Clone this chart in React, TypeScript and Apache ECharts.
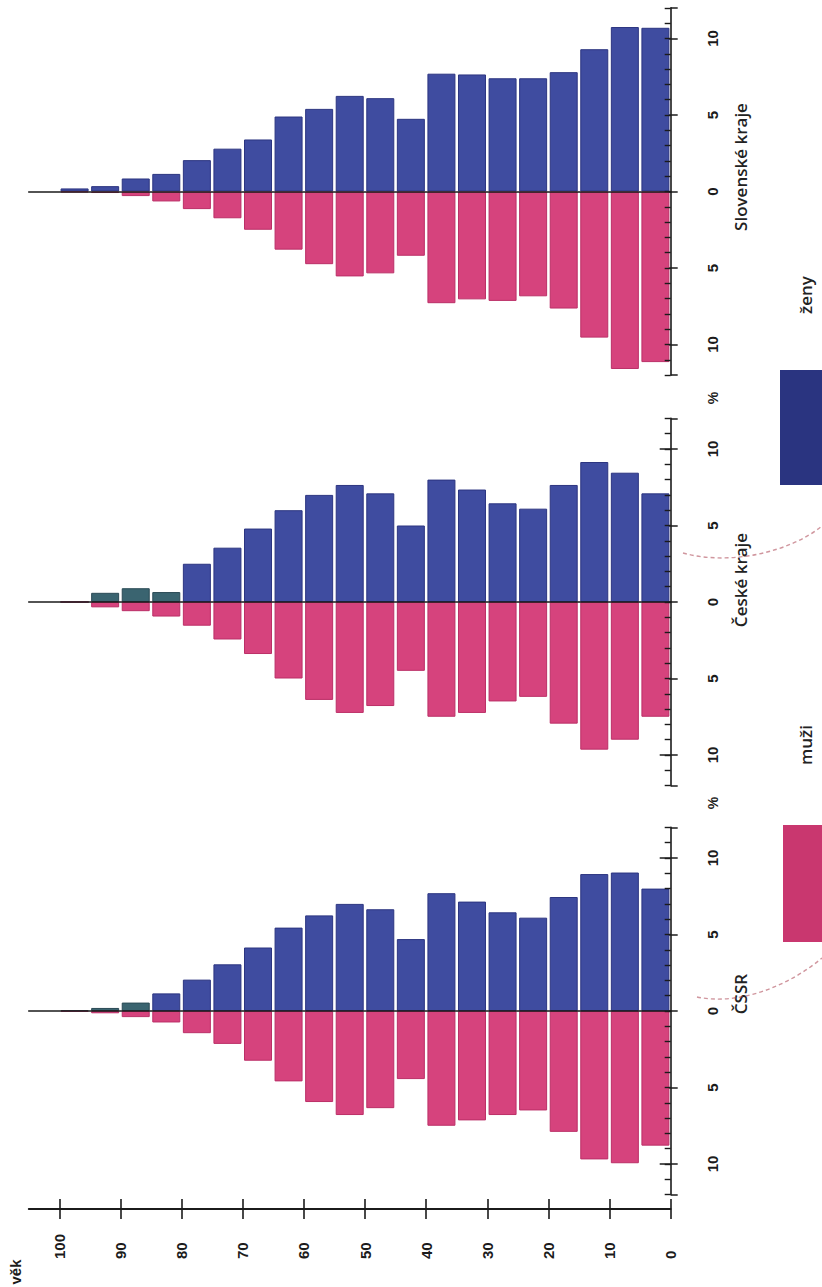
import React, { useEffect, useRef } from "react";
import * as echarts from "echarts";

// ---------- data ----------
const ageGroupStarts = [0, 5, 10, 15, 20, 25, 30, 35, 40, 45, 50, 55, 60, 65, 70, 75, 80, 85, 90, 95];
const ageTickValues = [0, 10, 20, 30, 40, 50, 60, 70, 80, 90, 100];
const percentLabelValues = [-10, -5, 0, 5, 10];
const percentMinorTickValues = [-12, -11, -10, -9, -8, -7, -6, -5, -4, -3, -2, -1, 0, 1, 2, 3, 4, 5, 6, 7, 8, 9, 10, 11, 12];
const percentOuterTickValues = [-12, -10, -5, 0, 5, 10, 12];

// Slovenské kraje
const skWomen = [10.7, 10.75, 9.3, 7.8, 7.4, 7.4, 7.65, 7.7, 4.75, 6.1, 6.25, 5.4, 4.9, 3.4, 2.8, 2.05, 1.15, 0.85, 0.35, 0.2];
const skMen = [11.15, 11.6, 9.55, 7.65, 6.85, 7.15, 7.05, 7.3, 4.2, 5.35, 5.55, 4.75, 3.8, 2.5, 1.75, 1.15, 0.65, 0.3, 0.1, 0.05];
// České kraje
const czWomen = [7.1, 8.45, 9.15, 7.65, 6.1, 6.45, 7.35, 8.0, 5.0, 7.1, 7.65, 7.0, 6.0, 4.8, 3.55, 2.5, 0.65, 0.9, 0.6, 0];
const czMen = [7.5, 9.0, 9.65, 7.95, 6.2, 6.5, 7.25, 7.5, 4.5, 6.8, 7.25, 6.4, 5.0, 3.4, 2.45, 1.55, 0.95, 0.6, 0.35, 0];
// ČSSR
const csWomen = [8.0, 9.05, 8.95, 7.45, 6.1, 6.45, 7.15, 7.7, 4.7, 6.65, 7.0, 6.25, 5.45, 4.15, 3.05, 2.05, 1.15, 0.55, 0.2, 0.05];
const csMen = [8.8, 9.95, 9.7, 7.9, 6.5, 6.8, 7.15, 7.5, 4.45, 6.35, 6.8, 5.95, 4.6, 3.25, 2.15, 1.45, 0.75, 0.4, 0.15, 0.05];

const pyramidTitles = ["Slovenské kraje", "České kraje", "ČSSR"];
const legendMen = "muži";
const legendWomen = "ženy";
const ageAxisName = "věk";
const percentSign = "%";

// ---------- layout / style ----------
const W = 822;
const H = 1287;
const AGE0_X = 670.7;
const PX_YEAR = 6.114;
const AGE_MAX = 105;
const PX_PCT = 15.3;
const PCT_MAX = 12;
const zeroYs = [191.5, 602, 1011];
const titleYs = [167, 580, 994];
const percentSignYs = [398, 803];
const AGE_AXIS_Y = 1209;

const BLUE = "#3f4ca0";
const BLUE_EDGE = "#2c3580";
const PINK = "#d6437d";
const PINK_EDGE = "#bb2f67";
const OVERPRINT = "#3a6470";
const INK = "#1b1b1b";

const numFont = "Liberation Sans";

export default function App() {
  const ref = useRef<HTMLDivElement>(null);

  useEffect(() => {
    if (!ref.current) return;
    const chart = echarts.init(ref.current, undefined, { renderer: "svg" });

    const gridLeft = AGE0_X - AGE_MAX * PX_YEAR;
    const gridWidth = AGE_MAX * PX_YEAR;
    const half = PCT_MAX * PX_PCT;

    const womenSets = [skWomen, czWomen, csWomen];
    const menSets = [skMen, czMen, csMen];

    const grids: any[] = zeroYs.map((zy) => ({
      left: gridLeft,
      width: gridWidth,
      top: zy - half,
      height: 2 * half,
      containLabel: false,
    }));

    const xAxes: any[] = [];
    zeroYs.forEach((_, i) => {
      xAxes.push({
        type: "value",
        gridIndex: i,
        min: 0,
        max: AGE_MAX,
        inverse: true,
        z: 6,
        axisLine: { show: true, onZero: true, lineStyle: { color: INK, width: 1.6 } },
        axisTick: { show: false },
        axisLabel: { show: false },
        splitLine: { show: false },
      });
    });
    const ageAxisOffset = AGE_AXIS_Y - (zeroYs[2] + half);
    // age axis (outer ticks + labels)
    xAxes.push({
      type: "value",
      gridIndex: 2,
      position: "bottom",
      offset: ageAxisOffset,
      min: 0,
      max: AGE_MAX,
      inverse: true,
      axisLine: { show: true, onZero: false, lineStyle: { color: INK, width: 1.8 } },
      axisTick: { show: true, customValues: ageTickValues, inside: false, length: 10, lineStyle: { color: INK, width: 1.6 } },
      axisLabel: {
        show: true,
        customValues: ageTickValues,
        rotate: 90,
        margin: 50,
        align: "left",
        verticalAlign: "middle",
        color: INK,
        fontFamily: numFont,
        fontWeight: "bold",
        fontSize: 15,
      },
      splitLine: { show: false },
    });
    // age axis (inner ticks)
    xAxes.push({
      type: "value",
      gridIndex: 2,
      position: "bottom",
      offset: ageAxisOffset,
      min: 0,
      max: AGE_MAX,
      inverse: true,
      axisLine: { show: false, onZero: false },
      axisTick: { show: true, customValues: ageTickValues, inside: true, length: 10, lineStyle: { color: INK, width: 1.6 } },
      axisLabel: { show: false },
      splitLine: { show: false },
    });

    const yAxes: any[] = [];
    const mainYIndex: number[] = [];
    zeroYs.forEach((_, i) => {
      mainYIndex.push(yAxes.length);
      yAxes.push({
        type: "value",
        gridIndex: i,
        position: "right",
        min: -PCT_MAX,
        max: PCT_MAX,
        z: 6,
        axisLine: { show: true, onZero: false, lineStyle: { color: INK, width: 1.6 } },
        axisTick: { show: true, customValues: percentMinorTickValues, inside: true, length: 6, lineStyle: { color: INK, width: 1.4 } },
        axisLabel: {
          show: true,
          customValues: percentLabelValues,
          formatter: (v: number) => String(Math.abs(v)),
          rotate: 90,
          margin: 42,
          align: "center",
          verticalAlign: "middle",
          color: INK,
          fontFamily: numFont,
          fontWeight: "bold",
          fontSize: 15,
        },
        splitLine: { show: false },
      });
      yAxes.push({
        type: "value",
        gridIndex: i,
        position: "right",
        min: -PCT_MAX,
        max: PCT_MAX,
        axisLine: { show: false, onZero: false },
        axisTick: { show: true, customValues: percentOuterTickValues, inside: false, length: 7, lineStyle: { color: INK, width: 1.5 } },
        axisLabel: { show: false },
        splitLine: { show: false },
      });
      yAxes.push({
        type: "value",
        gridIndex: i,
        position: "right",
        min: -PCT_MAX,
        max: PCT_MAX,
        axisLine: { show: false, onZero: false },
        axisTick: { show: true, customValues: percentLabelValues, inside: true, length: 11, lineStyle: { color: INK, width: 1.5 } },
        axisLabel: { show: false },
        splitLine: { show: false },
      });
    });

    const series: any[] = [];
    zeroYs.forEach((_, i) => {
      const women = womenSets[i];
      const men = menSets[i];
      series.push({
        type: "bar",
        name: legendWomen,
        xAxisIndex: i,
        yAxisIndex: mainYIndex[i],
        barWidth: 28,
        barGap: "-100%",
        itemStyle: { color: BLUE, borderColor: BLUE_EDGE, borderWidth: 1 },
        data: ageGroupStarts.map((a, k) => {
          const over = (i === 2 && a >= 85) || (i === 1 && a >= 80);
          return over
            ? { value: [a + 2.5, women[k]], itemStyle: { color: OVERPRINT, borderColor: "#2a4a55" } }
            : { value: [a + 2.5, women[k]] };
        }),
      });
      series.push({
        type: "bar",
        name: legendMen,
        xAxisIndex: i,
        yAxisIndex: mainYIndex[i],
        barWidth: 28,
        barGap: "-100%",
        itemStyle: { color: PINK, borderColor: PINK_EDGE, borderWidth: 1 },
        data: ageGroupStarts.map((a, k) => ({ value: [a + 2.5, -men[k]] })),
      });
    });

    const titleFont = '600 17px "Open Sans"';
    const graphic: any[] = [];
    pyramidTitles.forEach((t, i) => {
      graphic.push({
        type: "text",
        x: 740,
        y: titleYs[i],
        rotation: Math.PI / 2,
        style: { text: t, font: titleFont, fill: "#222", align: "center", verticalAlign: "middle", textAlign: "center", textVerticalAlign: "middle" },
      });
    });
    percentSignYs.forEach((y) => {
      graphic.push({
        type: "text",
        x: 713,
        y,
        rotation: Math.PI / 2,
        style: { text: percentSign, font: `bold 14px "${numFont}"`, fill: INK, align: "center", verticalAlign: "middle", textAlign: "center", textVerticalAlign: "middle" },
      });
    });
    graphic.push({
      type: "text",
      x: 15,
      y: 1272,
      rotation: Math.PI / 2,
      style: { text: ageAxisName, font: `bold 15px "${numFont}"`, fill: INK, align: "center", verticalAlign: "middle", textAlign: "center", textVerticalAlign: "middle" },
    });
    // legend swatches
    graphic.push({ type: "rect", shape: { x: 780, y: 370, width: 45, height: 115 }, style: { fill: "#2a3480" } });
    graphic.push({ type: "rect", shape: { x: 783, y: 825, width: 42, height: 117 }, style: { fill: "#c9376f" } });
    graphic.push({
      type: "text",
      x: 805,
      y: 295,
      rotation: Math.PI / 2,
      style: { text: legendWomen, font: titleFont, fill: "#222", align: "center", verticalAlign: "middle", textAlign: "center", textVerticalAlign: "middle" },
    });
    graphic.push({
      type: "text",
      x: 805,
      y: 745,
      rotation: Math.PI / 2,
      style: { text: legendMen, font: titleFont, fill: "#222", align: "center", verticalAlign: "middle", textAlign: "center", textVerticalAlign: "middle" },
    });
    // faint dashed pencil marks
    graphic.push({
      type: "bezierCurve",
      shape: { x1: 697, y1: 997, cpx1: 740, cpy1: 1006, cpx2: 790, cpy2: 985, x2: 822, y2: 958 },
      style: { stroke: "#b0505e", lineWidth: 1.4, lineDash: [4, 3], fill: null, opacity: 0.6 },
    });
    graphic.push({
      type: "bezierCurve",
      shape: { x1: 683, y1: 553, cpx1: 730, cpy1: 566, cpx2: 790, cpy2: 552, x2: 822, y2: 526 },
      style: { stroke: "#b0505e", lineWidth: 1.4, lineDash: [4, 3], fill: null, opacity: 0.6 },
    });

    chart.setOption({
      animation: false,
      backgroundColor: "#ffffff",
      grid: grids,
      xAxis: xAxes,
      yAxis: yAxes,
      series,
      graphic,
    });

    return () => chart.dispose();
  }, []);

  return (
    <div
      ref={ref}
      style={{ position: "fixed", left: 0, top: 0, width: W, height: H, background: "#fff" }}
    />
  );
}
